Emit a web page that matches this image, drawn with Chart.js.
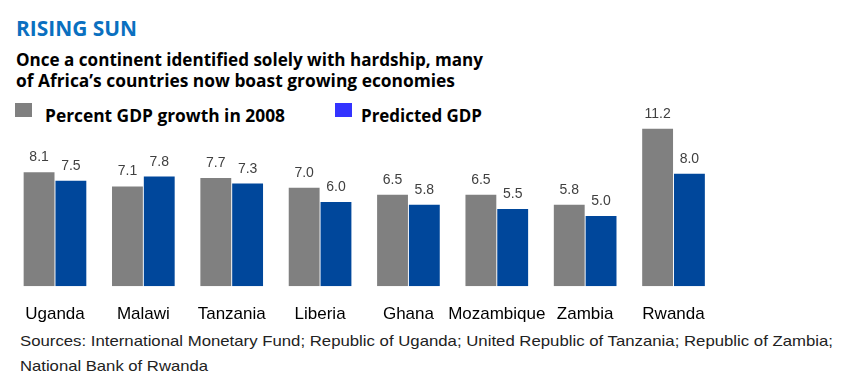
<!DOCTYPE html>
<html><head><meta charset="utf-8">
<script src="https://cdn.jsdelivr.net/npm/chart.js@4/dist/chart.umd.min.js"></script>
<style>
html,body{margin:0;padding:0;background:#fff;width:841px;height:387px;overflow:hidden;position:relative}
.t{position:absolute;white-space:nowrap;transform-origin:0 0;line-height:1}
#title{left:16px;top:12px;font:bold 22px "Open Sans";color:#0a70c0}
.sub{left:16px;font:bold 18.5px "Open Sans";color:#000}
.leg{font:bold 18.5px "Open Sans";color:#000;top:102px}
.sq{position:absolute;width:17px;height:14px;top:103px}
.src{left:20px;font:15px "Liberation Sans";color:#222}
#wrap{position:absolute;left:0;top:95px;width:841px;height:255px}
</style></head><body>
<div id="title" class="t" data-w="121">RISING SUN</div>
<div class="t sub" style="top:45.6px" data-w="467">Once a continent identified solely with hardship, many</div>
<div class="t sub" style="top:67px" data-w="439">of Africa’s countries now boast growing economies</div>
<div class="sq" style="left:15px;background:#808080"></div>
<div class="t leg" style="left:45px" data-w="240">Percent GDP growth in 2008</div>
<div class="sq" style="left:335px;background:#3333ff"></div>
<div class="t leg" style="left:361px" data-w="121">Predicted GDP</div>
<div class="t src" style="top:332px" data-w="813">Sources: International Monetary Fund; Republic of Uganda; United Republic of Tanzania; Republic of Zambia;</div>
<div class="t src" style="top:357px" data-w="188">National Bank of Rwanda</div>
<div id="wrap"><canvas id="c" width="841" height="255"></canvas></div>
<script>
const countries = ["Uganda","Malawi","Tanzania","Liberia","Ghana","Mozambique","Zambia","Rwanda"];
const growth2008 = [8.1,7.1,7.7,7.0,6.5,6.5,5.8,11.2];
const predicted = [7.5,7.8,7.3,6.0,5.8,5.5,5.0,8.0];

document.querySelectorAll('[data-w]').forEach(el=>{
  const w = el.getBoundingClientRect().width;
  const target = parseFloat(el.dataset.w);
  el.style.transform = 'scaleX(' + (target / w) + ')';
});

const labelPlugin = {
  id:'vals',
  afterDatasetsDraw(chart){
    const ctx = chart.ctx;
    ctx.save();
    ctx.font = '14px "Liberation Sans"';
    ctx.fillStyle = '#404040';
    ctx.textAlign = 'center';
    ctx.textBaseline = 'alphabetic';
    chart.data.datasets.forEach((ds,i)=>{
      chart.getDatasetMeta(i).data.forEach((el,j)=>{
        ctx.fillText(ds.data[j].toFixed(1), el.x, el.y - 11);
      });
    });
    ctx.restore();
  }
};

new Chart(document.getElementById('c'), {
  type:'bar',
  data:{
    labels: countries,
    datasets:[
      {label:'Percent GDP growth in 2008', data: growth2008, backgroundColor:'#808080', categoryPercentage:0.72, barPercentage:0.97},
      {label:'Predicted GDP', data: predicted, backgroundColor:'#00479b', categoryPercentage:0.72, barPercentage:0.97}
    ]
  },
  options:{
    responsive:false, animation:false,
    layout:{padding:{left:10.8, right:123.3, top:22.5, bottom:7.3}},
    plugins:{legend:{display:false}, tooltip:{enabled:false}},
    scales:{
      y:{display:false, min:0, max:12},
      x:{grid:{display:false, drawTicks:false}, border:{display:false},
         ticks:{color:'#000', font:{family:'Liberation Sans', size:17}, padding:18, maxRotation:0, minRotation:0, autoSkip:false}}
    }
  },
  plugins:[labelPlugin]
});
</script>
</body></html>
